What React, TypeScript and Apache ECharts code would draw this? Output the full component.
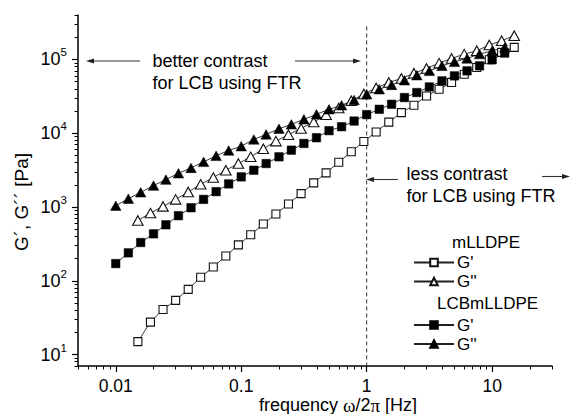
import React, { useEffect, useRef } from 'react';
import * as echarts from 'echarts';

// ---- data ----
const freqLCB = [0.01, 0.0126, 0.0158, 0.02, 0.0251, 0.0316, 0.0398, 0.0501, 0.0631, 0.0794, 0.1, 0.126, 0.158, 0.2, 0.251, 0.316, 0.398, 0.501, 0.631, 0.794, 1, 1.26, 1.58, 2, 2.51, 3.16, 3.98, 5.01, 6.31, 7.94, 10, 12.6];
const freqM = [0.015, 0.0189, 0.0238, 0.03, 0.0378, 0.0475, 0.0599, 0.0754, 0.0949, 0.119, 0.15, 0.189, 0.238, 0.3, 0.378, 0.475, 0.599, 0.754, 0.949, 1.19, 1.5, 1.89, 2.38, 3, 3.78, 4.75, 5.99, 7.54, 9.49, 11.9, 15];

const gPrimeM = [15.0, 27.5, 40.9, 54.3, 76.6, 111.6, 154, 217, 307, 420, 587, 804, 1099, 1517, 2123, 2904, 4048, 5600, 7730, 10400, 14150, 19010, 23890, 31980, 39450, 48630, 63060, 77800, 98800, 124500, 145600];
const gDoubleM = [658, 828, 1019, 1268, 1599, 2028, 2505, 3148, 3882, 4786, 6150, 7810, 9550, 11620, 14150, 17800, 22000, 27500, 34000, 41000, 48630, 55100, 65000, 75500, 89100, 103200, 118000, 131000, 156700, 179200, 209500];
const gPrimeLCB = [171, 239, 330, 433, 574, 762, 977, 1268, 1615, 2056, 2559, 3148, 3882, 4786, 5893, 7263, 8686, 10820, 12250, 14620, 17860, 21090, 24660, 30410, 35560, 42360, 51170, 59840, 69980, 81850, 98800, 121900];
const gDoubleLCB = [1042, 1297, 1581, 1950, 2350, 2865, 3390, 4090, 4940, 5830, 6670, 8240, 9640, 11510, 13180, 15410, 18030, 21090, 23890, 28180, 33700, 39450, 45190, 52240, 61070, 69980, 81850, 92650, 103200, 118000, 131000, 145600];

const xMajor = [0.01, 0.1, 1, 10];
const xMajorLabels = ['0.01', '0.1', '1', '10'];
const yMajor = [10, 100, 1000, 10000, 100000];
const yMajorExp = ['1', '2', '3', '4', '5'];
const xDecades = [0.001, 0.01, 0.1, 1, 10];
const yDecades = [1, 10, 100, 1000, 10000, 100000];
const minorMult = [2, 3, 4, 5, 6, 7, 8, 9];

const xMin = 0.005, xMax = 30, yMin = 7, yMax = 400000;
const refFreq = 1;
const refTop = 280000;

const seriesNames = ["mLLDPE G'", "mLLDPE G''", "LCBmLLDPE G'", "LCBmLLDPE G''"];

const FONT = "'Liberation Sans', Arial, Helvetica, sans-serif";
const SERIF = "'Liberation Serif', 'DejaVu Serif', serif";

const lg = (v: number) => Math.log10(v);

function arrow(x1: number, x2: number, y: number) {
  // x1: tail, x2: tip
  const dir = x2 > x1 ? 1 : -1;
  const hl = 8, hw = 2.6;
  return {
    type: 'group',
    silent: true,
    children: [
      { type: 'line', shape: { x1, y1: y, x2: x2 - dir * hl * 0.6, y2: y }, style: { stroke: '#333', lineWidth: 1.1 } },
      { type: 'polygon', shape: { points: [[x2, y], [x2 - dir * hl, y - hw], [x2 - dir * hl, y + hw]] }, style: { fill: '#222' } },
    ],
  };
}

const txt = (text: string, x: number, y: number, fontSize: number) => ({
  type: 'text', x, y, silent: true,
  style: { text, fontSize, fontFamily: FONT, fill: '#000', align: 'left', verticalAlign: 'middle', textAlign: 'left', textVerticalAlign: 'middle' },
});

export default function App() {
  const ref = useRef<HTMLDivElement>(null);
  useEffect(() => {
    if (!ref.current) return;
    const chart = echarts.init(ref.current, null, { renderer: 'svg' });

    const xMinor = xDecades.flatMap(d => minorMult.map(m => d * m)).filter(v => v >= xMin * 0.999 && v <= xMax * 1.001).map(lg);
    const yMinor = yDecades.flatMap(d => minorMult.map(m => d * m)).filter(v => v >= yMin * 0.999 && v <= yMax * 1.001).map(lg);

    const xLabelMap: Record<string, string> = {};
    xMajor.forEach((v, i) => { xLabelMap[lg(v).toFixed(3)] = xMajorLabels[i]; });
    const yLabelMap: Record<string, string> = {};
    yMajor.forEach((v, i) => { yLabelMap[lg(v).toFixed(3)] = yMajorExp[i]; });

    const openStyle = { color: '#fff', borderColor: '#111', borderWidth: 1.1 };
    const fillStyle = { color: '#000', borderColor: '#000', borderWidth: 0.5 };
    const lineStyle = { color: '#222', width: 0.9 };

    const mk = (name: string, fx: number[], gy: number[], symbol: string, size: any, itemStyle: any) => ({
      name,
      type: 'line',
      xAxisIndex: 0,
      yAxisIndex: 0,
      data: fx.map((f, i) => [lg(f), lg(gy[i])]),
      symbol,
      symbolSize: size,
      showAllSymbol: true,
      lineStyle,
      itemStyle,
      emphasis: { disabled: true },
      z: 3,
    });

    const legendBase = {
      orient: 'vertical',
      left: 413,
      itemWidth: 40,
      itemHeight: 9.5,
      itemGap: 2,
      padding: 0,
      selectedMode: false,
      formatter: (n: string) => n.split(' ')[1],
      textStyle: { fontSize: 17, fontFamily: FONT, color: '#000', lineHeight: 17, padding: [0, 0, 0, -2] },
    };

    const staticGraphics: any[] = [
      {
        type: 'text', x: 21.5, y: 202, rotation: Math.PI / 2, silent: true,
        style: { text: 'G´, G´´ [Pa]', fontSize: 19, fontFamily: FONT, fill: '#000', align: 'center', verticalAlign: 'middle', textAlign: 'center', textVerticalAlign: 'middle' },
      },
      {
        type: 'text', x: 338, y: 405, silent: true,
        style: {
          text: '{a|frequency }{g|ω}{a|/2}{g|π}{a| [Hz]}',
          align: 'center', verticalAlign: 'middle', textAlign: 'center', textVerticalAlign: 'middle',
          rich: {
            a: { fontSize: 18, fontFamily: FONT, fill: '#000', color: '#000' },
            g: { fontSize: 19, fontFamily: SERIF, fill: '#000', color: '#000' },
          },
        },
      },
      txt('better contrast', 152.5, 61, 18),
      txt('for LCB using FTR', 152.5, 83, 18),
      txt('less contrast', 406.5, 173.5, 18),
      txt('for LCB using FTR', 406.5, 195.5, 18),
      txt('mLLDPE', 452, 242, 17),
      txt('LCBmLLDPE', 437, 303.5, 17),
      arrow(140, 86, 61),
      arrow(295, 361, 61),
      arrow(398, 366, 179.5),
      arrow(542, 570, 176.5),
    ];

    chart.setOption({
      animation: false,
      backgroundColor: '#fff',
      grid: { left: 78, right: 18, top: 15, bottom: 48, containLabel: false },
      xAxis: [
        {
          type: 'value', min: lg(xMin), max: lg(xMax), position: 'bottom',
          axisLine: { show: true, onZero: false, lineStyle: { color: '#000', width: 1.5 } },
          axisTick: { show: true, customValues: xMajor.map(lg), length: 6, lineStyle: { color: '#000', width: 1.2 } },
          axisLabel: {
            show: true, customValues: xMajor.map(lg), margin: 11,
            formatter: (v: number) => xLabelMap[v.toFixed(3)] ?? '',
            fontSize: 17.5, fontFamily: FONT, color: '#000',
          },
          splitLine: { show: false },
        },
        {
          type: 'value', min: lg(xMin), max: lg(xMax), position: 'bottom',
          axisLine: { show: false, onZero: false },
          axisTick: { show: true, customValues: xMinor, length: 3.5, lineStyle: { color: '#000', width: 1 } },
          axisLabel: { show: false },
          splitLine: { show: false },
        },
      ],
      yAxis: [
        {
          type: 'value', min: lg(yMin), max: lg(yMax), position: 'left',
          axisLine: { show: true, onZero: false, lineStyle: { color: '#000', width: 1.5 } },
          axisTick: { show: true, customValues: yMajor.map(lg), length: 6, lineStyle: { color: '#000', width: 1.2 } },
          axisLabel: {
            show: true, customValues: yMajor.map(lg), margin: 11,
            formatter: (v: number) => '{b|10}{s|' + (yLabelMap[v.toFixed(3)] ?? '') + '}',
            rich: {
              b: { fontSize: 18, fontFamily: FONT, color: '#000', lineHeight: 26 },
              s: { fontSize: 11.5, fontFamily: FONT, color: '#000', lineHeight: 12, verticalAlign: 'top' },
            },
          },
          splitLine: { show: false },
        },
        {
          type: 'value', min: lg(yMin), max: lg(yMax), position: 'left',
          axisLine: { show: false, onZero: false },
          axisTick: { show: true, customValues: yMinor, length: 3.5, lineStyle: { color: '#000', width: 1 } },
          axisLabel: { show: false },
          splitLine: { show: false },
        },
      ],
      legend: [
        { ...legendBase, top: 254, data: [seriesNames[0], seriesNames[1]] },
        { ...legendBase, top: 316.5, data: [seriesNames[2], seriesNames[3]] },
      ],
      series: [
        mk(seriesNames[0], freqM, gPrimeM, 'rect', 8, openStyle),
        mk(seriesNames[1], freqM, gDoubleM, 'triangle', [10.5, 9.5], openStyle),
        mk(seriesNames[2], freqLCB, gPrimeLCB, 'rect', 8.5, fillStyle),
        mk(seriesNames[3], freqLCB, gDoubleLCB, 'triangle', [10.5, 9.5], fillStyle),
      ],
      graphic: staticGraphics,
    });

    // dashed reference line at f = 1 Hz, positioned through the chart's own scales
    const p1 = chart.convertToPixel({ xAxisIndex: 0, yAxisIndex: 0 }, [lg(refFreq), lg(refTop)]) as number[];
    const p2 = chart.convertToPixel({ xAxisIndex: 0, yAxisIndex: 0 }, [lg(refFreq), lg(yMin)]) as number[];
    chart.setOption({
      graphic: [
        ...staticGraphics,
        {
          type: 'line', silent: true, z: 1,
          shape: { x1: p1[0], y1: p1[1], x2: p2[0], y2: p2[1] },
          style: { stroke: '#333', lineWidth: 1, lineDash: [4, 3] },
        },
      ],
    });

    return () => chart.dispose();
  }, []);

  return <div ref={ref} style={{ position: 'fixed', left: 0, top: 0, width: 570, height: 414 }} />;
}
